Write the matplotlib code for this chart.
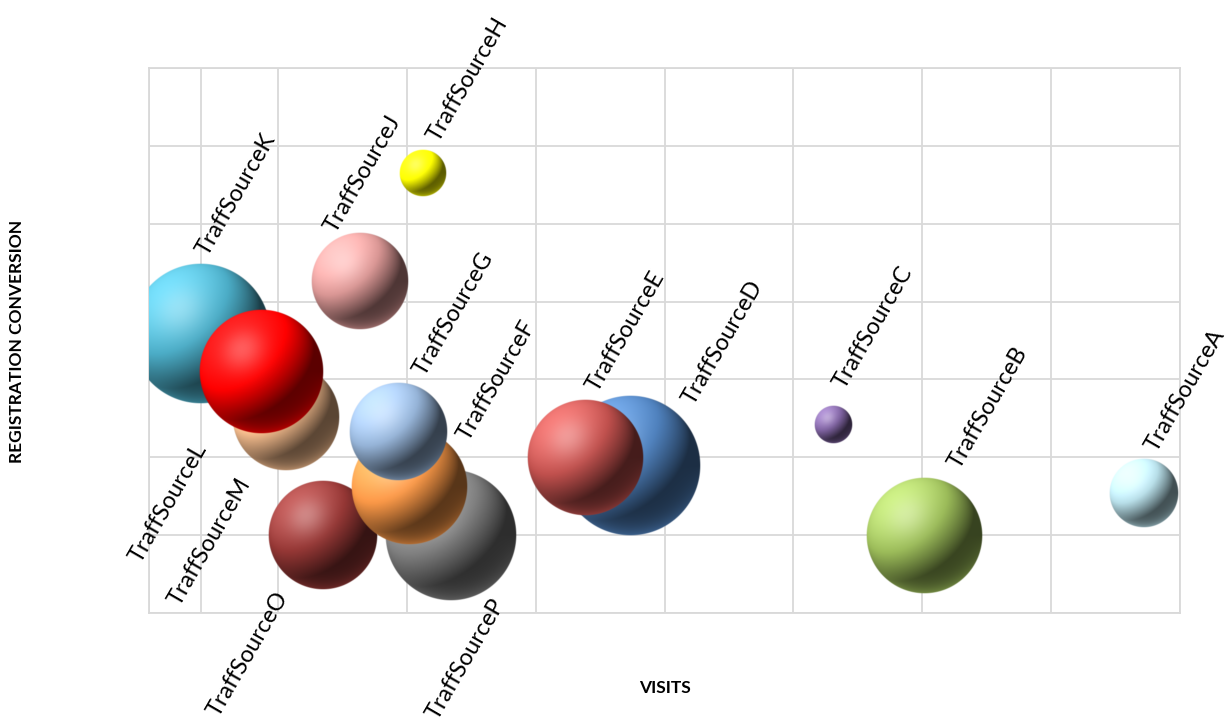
import numpy as np
import matplotlib
matplotlib.use('Agg')
import matplotlib.pyplot as plt
from matplotlib.colors import to_rgb

plt.rcParams['font.family'] = ['Lato', 'DejaVu Sans']

# Data (visits, registration conversion, bubble size)
sources = ['TraffSourceA', 'TraffSourceB', 'TraffSourceC', 'TraffSourceD', 'TraffSourceE',
           'TraffSourceF', 'TraffSourceG', 'TraffSourceH', 'TraffSourceJ', 'TraffSourceK',
           'TraffSourceL', 'TraffSourceM', 'TraffSourceO', 'TraffSourceP']
visits = [3860, 3010, 2655, 1870, 1695, 1010, 965, 1060, 815, 200, 435, 530, 675, 1170]
conversion = [0.077, 0.050, 0.121, 0.095, 0.100, 0.081, 0.116, 0.282, 0.213, 0.179, 0.155, 0.126, 0.050, 0.050]
bubble_size = [1200, 3440, 380, 5000, 3440, 3440, 2420, 560, 2370, 4930, 3870, 2930, 2990, 4320]

colors = ['#B7DEE8', '#9BBB59', '#8064A2', '#4F81BD', '#C0504D', '#F79646', '#95B3D7',
          '#FFFF00', '#D99694', '#4BACC6', '#FF0000', '#FAC090', '#953735', '#7F7F7F']

# label centre offsets from bubble centre, in pixels
label_offsets = [(41, 103), (63, 127), (40, 97), (92, 123), (40, 126), (87, 106), (56, 119),
                 (46, 94), (4, 107), (36, 140), (-93, -131), (-76, -125), (-75, -119), (15, -124)]

# drawing order (later ones on top)
draw_order = ['TraffSourceK', 'TraffSourceM', 'TraffSourceL', 'TraffSourceJ', 'TraffSourceH',
              'TraffSourceP', 'TraffSourceO', 'TraffSourceF', 'TraffSourceG', 'TraffSourceD',
              'TraffSourceE', 'TraffSourceC', 'TraffSourceB', 'TraffSourceA']

MAX_R = 70.5  # pixel radius of the largest bubble
W, H, DPI = 1226, 722, 100

# light direction for the sphere shading
L1 = np.array([-0.534, 0.623, 0.584])
L1 = L1 / np.linalg.norm(L1)


def sphere_image(color, npx):
    base = np.array(to_rgb(color))
    u = np.linspace(-1, 1, npx)
    U, V = np.meshgrid(u, -u)
    rr = U**2 + V**2
    Wz = np.sqrt(np.clip(1 - rr, 0, 1))
    diff = np.clip(U * L1[0] + V * L1[1] + Wz * L1[2], 0, None)
    s = 0.36 + 1.12 * diff
    over = np.clip(s - 1, 0, 1)
    img = np.empty((npx, npx, 4))
    for i in range(3):
        c = np.where(s < 1, base[i] * s, base[i] * (1 + over * 0.5) + (1 - base[i]) * over * 0.3)
        img[..., i] = np.clip(c, 0, 1)
    # specular
    hvec = L1 + np.array([0, 0, 1.0])
    hvec = hvec / np.linalg.norm(hvec)
    spec = np.clip(U * hvec[0] + V * hvec[1] + Wz * hvec[2], 0, None) ** 16 * 0.28
    # soft reflected light on the lower rim
    rim = np.clip(-V, 0, 1) * np.clip(np.sqrt(rr), 0, 1) ** 5 * 0.6
    for i in range(3):
        img[..., i] = img[..., i] + (1 - img[..., i]) * spec
        img[..., i] = img[..., i] + (base[i] - img[..., i]) * rim
    img[..., :3] = np.clip(img[..., :3], 0, 1)
    edge = (1 - np.sqrt(rr)) * npx / 2 / 2.0
    img[..., 3] = np.clip(edge, 0, 1)
    return img


fig = plt.figure(figsize=(W / DPI, H / DPI), dpi=DPI)
ax = fig.add_axes([149 / W, (H - 613) / H, 1031 / W, 545 / H])

xmin, xmax = 0, 4000
ymin, ymax = 0, 0.35
ax.set_xlim(xmin, xmax)
ax.set_ylim(ymin, ymax)
ax.set_xticks(np.arange(0, 4001, 500))
ax.set_yticks(np.arange(0, 0.351, 0.05))
ax.grid(True, color='#D9D9D9', linewidth=1.3)
ax.axvline(200, color='#D9D9D9', linewidth=1.3, zorder=1)
ax.set_axisbelow(True)
ax.tick_params(length=0, labelbottom=False, labelleft=False)
for sp in ax.spines.values():
    sp.set_color('#D9D9D9')
    sp.set_linewidth(1.3)

px_x = 1031 / (xmax - xmin)
px_y = 545 / (ymax - ymin)
smax = max(bubble_size)

for z, name in enumerate(draw_order):
    i = sources.index(name)
    r = MAX_R * np.sqrt(bubble_size[i] / smax)
    rx, ry = r / px_x, r / px_y
    img = sphere_image(colors[i], int(r * 4))
    ax.imshow(img, extent=(visits[i] - rx, visits[i] + rx, conversion[i] - ry, conversion[i] + ry),
              aspect='auto', zorder=3 + z, interpolation='antialiased')

for i, name in enumerate(sources):
    ax.annotate(name, (visits[i], conversion[i]), xytext=label_offsets[i], textcoords='offset pixels',
                rotation=60, rotation_mode='anchor', ha='center', va='center',
                fontsize=16.8, color='black', zorder=50, annotation_clip=False)

ax.set_xlim(xmin, xmax)
ax.set_ylim(ymin, ymax)

fig.text(664.5 / W, 1 - 688 / H, 'VISITS', ha='center', va='center', fontsize=12.5, fontweight='bold')
fig.text(17 / W, 1 - 341 / H, 'REGISTRATION CONVERSION', ha='center', va='center', rotation=90,
         fontsize=12.5, fontweight='bold')

fig.savefig('out.png', dpi=DPI)
